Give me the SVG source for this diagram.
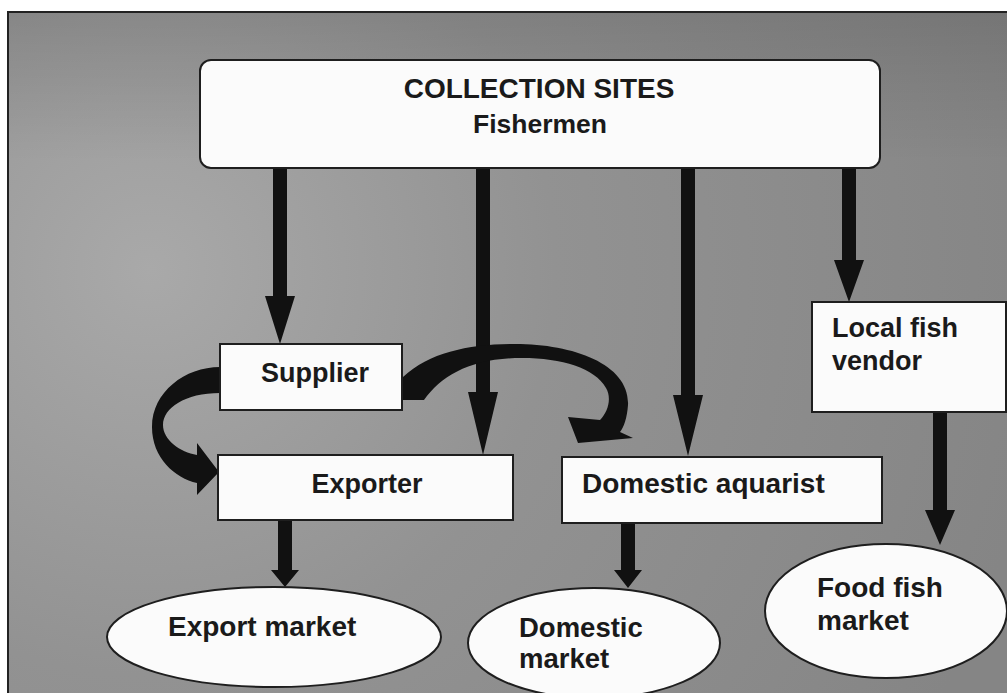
<svg xmlns="http://www.w3.org/2000/svg" width="1007" height="693" viewBox="0 0 1007 693">
<defs>
<radialGradient id="bg" cx="150" cy="270" r="900" gradientUnits="userSpaceOnUse">
<stop offset="0" stop-color="#a9a9a9"/>
<stop offset="0.45" stop-color="#929292"/>
<stop offset="1" stop-color="#858585"/>
</radialGradient>
<linearGradient id="topshade" x1="0" y1="0" x2="0" y2="1">
<stop offset="0" stop-color="#000" stop-opacity="0.12"/>
<stop offset="1" stop-color="#000" stop-opacity="0"/>
</linearGradient>
<style>
.box{fill:#fbfbfb;stroke:#1e1e1e;stroke-width:2}
.ell{fill:#fbfbfb;stroke:#1e1e1e;stroke-width:2}
.arr{fill:#111;stroke:none}
.t{font-family:"Liberation Sans",Arial,sans-serif;font-weight:bold;fill:#1a1a1a}
</style>
</defs>
<rect x="0" y="0" width="1007" height="693" fill="#ffffff"/>
<rect x="8" y="12" width="1000" height="682" fill="url(#bg)"/>
<rect x="8" y="12" width="1000" height="150" fill="url(#topshade)"/>
<path d="M8,693 V12 H1007" fill="none" stroke="#222" stroke-width="2"/>

<g id="connectors">
<path class="arr" d="M273,168 V296 H265 L280,344 L295,296 H287 V168 Z"/>
<path class="arr" d="M476,168 V392 H468 L483,455 L498,392 H490 V168 Z"/>
<path class="arr" d="M681,168 V395 H673 L688,456 L703,395 H695 V168 Z"/>
<path class="arr" d="M842,168 V260 H834 L849,302 L864,260 H856 V168 Z"/>
<path class="arr" d="M933,412 V510 H925 L940,545 L955,510 H947 V412 Z"/>
<path class="arr" d="M278,520 V570 H271 L285,587 L299,570 H292 V520 Z"/>
<path class="arr" d="M621,523 V570 H614 L628,588 L642,570 H635 V523 Z"/>
<path class="arr" d="M220,367 C185,367 152,392 152,427 C152,458 175,478 197,483 L197,495 L219,472 L197,443 L197,455 C180,452 163,440 163,425 C163,408 185,393 220,393 Z"/>
<path class="arr" d="M403,377 C430,352 470,344 515,344 C575,344 630,365 628,405 C627,418 624,427 620,432 L633,438 L578,443 L568,417 L600,420 C608,412 612,398 606,388 C595,368 562,358 522,358 C472,358 442,375 424,400 L403,400 Z"/>
</g>

<g id="collection-sites">
<rect class="box" x="200" y="60" width="680" height="108" rx="11"/>
<text class="t" x="539" y="98" font-size="28" text-anchor="middle">COLLECTION SITES</text>
<text class="t" x="540" y="133" font-size="26.5" text-anchor="middle">Fishermen</text>
</g>

<g id="supplier">
<rect class="box" x="220" y="344" width="182" height="66"/>
<text class="t" x="315" y="382" font-size="27" text-anchor="middle">Supplier</text>
</g>

<g id="exporter">
<rect class="box" x="218" y="455" width="295" height="65"/>
<text class="t" x="367" y="493" font-size="27" text-anchor="middle">Exporter</text>
</g>

<g id="domestic-aquarist">
<rect class="box" x="562" y="457" width="320" height="66"/>
<text class="t" x="582" y="493" font-size="28">Domestic aquarist</text>
</g>

<g id="local-fish-vendor">
<rect class="box" x="812" y="302" width="194" height="110"/>
<text class="t" x="832" y="337" font-size="27">Local fish</text>
<text class="t" x="832" y="370" font-size="27">vendor</text>
</g>

<g id="export-market">
<ellipse class="ell" cx="274" cy="637" rx="167" ry="50"/>
<text class="t" x="168" y="636" font-size="28">Export market</text>
</g>

<g id="domestic-market">
<ellipse class="ell" cx="594" cy="643" rx="126" ry="55"/>
<text class="t" x="519" y="637" font-size="27.5">Domestic</text>
<text class="t" x="519" y="668" font-size="27.5">market</text>
</g>

<g id="food-fish-market">
<ellipse class="ell" cx="886" cy="611" rx="121" ry="67"/>
<text class="t" x="817" y="597" font-size="28">Food fish</text>
<text class="t" x="817" y="630" font-size="28">market</text>
</g>
</svg>
